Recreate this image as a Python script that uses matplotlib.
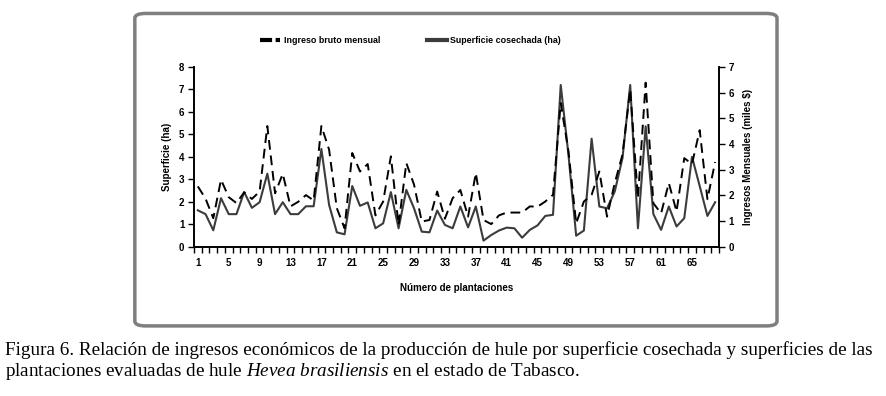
import numpy as np
import matplotlib
matplotlib.use("Agg")
import matplotlib.pyplot as plt
from matplotlib.lines import Line2D
from matplotlib.patches import FancyBboxPatch

# plantation numbers 1..68
plantaciones = list(range(1, 69))

# harvested area (ha), left axis
superficie = [
    1.62, 1.45, 0.73, 2.16, 1.45, 1.45, 2.43, 1.73, 1.98, 3.25,
    1.45, 1.98, 1.45, 1.45, 1.80, 1.80, 4.35, 1.86, 0.64, 0.55,
    2.70, 1.82, 1.97, 0.82, 1.04, 2.43, 0.82, 2.53, 1.71, 0.67,
    0.64, 1.61, 0.97, 0.82, 1.79, 0.86, 1.79, 0.27, 0.52, 0.72,
    0.85, 0.82, 0.40, 0.75, 0.95, 1.37, 1.42, 7.20, 4.10, 0.49,
    0.72, 4.81, 1.79, 1.71, 2.46, 3.95, 7.20, 0.82, 5.36, 1.45,
    0.75, 1.79, 0.90, 1.27, 4.00, 2.70, 1.37, 1.98,
]

# monthly gross income (thousand $), right axis
ingreso = [
    2.35, 1.87, 1.11, 2.61, 1.93, 1.70, 2.12, 1.86, 2.15, 4.70,
    2.08, 2.84, 1.57, 1.75, 2.01, 1.80, 4.70, 3.78, 1.50, 0.72,
    3.65, 2.93, 3.22, 1.22, 1.76, 3.52, 0.85, 3.26, 2.42, 0.98,
    1.04, 2.15, 1.09, 1.89, 2.21, 1.17, 2.87, 1.04, 0.88, 1.22,
    1.33, 1.33, 1.33, 1.57, 1.56, 1.76, 2.02, 5.60, 3.72, 0.91,
    1.76, 2.02, 2.93, 1.17, 2.48, 3.59, 6.13, 1.89, 6.39, 1.69,
    1.30, 2.48, 1.37, 3.45, 3.22, 4.54, 1.85, 3.30,
]

x_labels = list(range(1, 69, 4))

plt.rcParams["font.family"] = ["Liberation Sans", "DejaVu Sans"]
plt.rcParams["mathtext.fontset"] = "custom"
plt.rcParams["mathtext.rm"] = "Liberation Serif"
plt.rcParams["mathtext.it"] = "Liberation Serif:italic"

fig = plt.figure(figsize=(8.87, 3.96), dpi=100)

# rounded grey frame around the chart
frame = FancyBboxPatch((0.152, 0.177), 0.724, 0.789,
                       boxstyle="round,pad=0,rounding_size=0.012",
                       transform=fig.transFigure, facecolor="none",
                       edgecolor="#7f7f7f", linewidth=2.5, zorder=-1)
fig.patches.append(frame)

ax = fig.add_axes([0.2187, 0.377, 0.5919, 0.4538])
ax.patch.set_alpha(0)
ax2 = ax.twinx()

ax.plot(plantaciones, superficie, color="#3c3c3c", lw=1.5, zorder=3)
ax2.plot(plantaciones, ingreso, color="black", lw=1.4, dashes=(5, 3), zorder=3)

ax.set_xlim(0.5, 68.5)
ax.set_ylim(0, 8)
ax2.set_ylim(0, 7)
ax.set_yticks(range(0, 9))
ax2.set_yticks(range(0, 8))

# category ticks between points, labels every 4th point
ax.set_xticks(x_labels)
ax.set_xticks(np.arange(0.5, 69, 1), minor=True)
ax.tick_params(axis="x", which="major", length=0, pad=8)
ax.tick_params(axis="x", which="minor", length=4, width=1, direction="out")

for a in (ax, ax2):
    a.tick_params(axis="y", length=4, width=1, direction="out", pad=3)
    a.tick_params(labelsize=7)
    for lab in a.get_xticklabels() + a.get_yticklabels():
        lab.set_fontweight("bold")
    a.spines["top"].set_visible(False)
    for s in ("left", "right", "bottom"):
        a.spines[s].set_linewidth(1.2)

ax.set_ylabel("Superficie (ha)", fontsize=7, fontweight="bold", labelpad=5)
ax2.set_ylabel("Ingresos Mensuales (miles $)", fontsize=7, fontweight="bold", labelpad=6)
ax.set_xlabel("Número de plantaciones", fontsize=7, fontweight="bold", labelpad=11)

handles = [
    Line2D([], [], color="black", lw=3, dashes=(2.9, 0.85)),
    Line2D([], [], color="#3c3c3c", lw=3),
]
fig.legend(handles, ["Ingreso bruto mensual", "Superficie cosechada (ha)"],
           loc="center", bbox_to_anchor=(0.463, 0.898), ncol=2, frameon=False,
           prop={"size": 6.4, "weight": "bold"}, handlelength=2.25,
           handletextpad=0.35, columnspacing=5.3)

fig.text(0.006, 0.116,
         "Figura 6. Relación de ingresos económicos de la producción de hule por "
         "superficie cosechada y superficies de las",
         fontsize=13.8, family="Liberation Serif", va="center", ha="left")
fig.text(0.006, 0.063,
         r"plantaciones evaluadas de hule $\mathit{Hevea\ brasiliensis}$ "
         "en el estado de Tabasco.",
         fontsize=13.8, family="Liberation Serif", va="center", ha="left")

fig.savefig("out.png", dpi=100)
